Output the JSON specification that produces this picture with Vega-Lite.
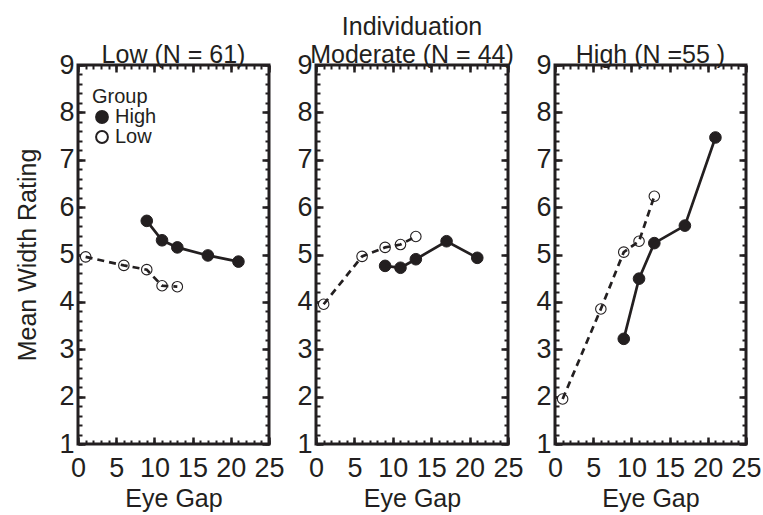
{
  "$schema": "https://vega.github.io/schema/vega-lite/v6.json",
  "background": "white",
  "padding": {"left": 14, "top": 13, "right": 0, "bottom": 0},
  "datasets": {
    "d": [
      {"Panel": "Low", "Group": "High", "EyeGap": 9, "Rating": 5.71},
      {"Panel": "Low", "Group": "High", "EyeGap": 11, "Rating": 5.30},
      {"Panel": "Low", "Group": "High", "EyeGap": 13, "Rating": 5.15},
      {"Panel": "Low", "Group": "High", "EyeGap": 17, "Rating": 4.98},
      {"Panel": "Low", "Group": "High", "EyeGap": 21, "Rating": 4.85},
      {"Panel": "Low", "Group": "Low", "EyeGap": 1, "Rating": 4.95},
      {"Panel": "Low", "Group": "Low", "EyeGap": 6, "Rating": 4.77},
      {"Panel": "Low", "Group": "Low", "EyeGap": 9, "Rating": 4.68},
      {"Panel": "Low", "Group": "Low", "EyeGap": 11, "Rating": 4.34},
      {"Panel": "Low", "Group": "Low", "EyeGap": 13, "Rating": 4.32},
      {"Panel": "Moderate", "Group": "High", "EyeGap": 9, "Rating": 4.76},
      {"Panel": "Moderate", "Group": "High", "EyeGap": 11, "Rating": 4.72},
      {"Panel": "Moderate", "Group": "High", "EyeGap": 13, "Rating": 4.90},
      {"Panel": "Moderate", "Group": "High", "EyeGap": 17, "Rating": 5.28},
      {"Panel": "Moderate", "Group": "High", "EyeGap": 21, "Rating": 4.93},
      {"Panel": "Moderate", "Group": "Low", "EyeGap": 1, "Rating": 3.95},
      {"Panel": "Moderate", "Group": "Low", "EyeGap": 6, "Rating": 4.96},
      {"Panel": "Moderate", "Group": "Low", "EyeGap": 9, "Rating": 5.15},
      {"Panel": "Moderate", "Group": "Low", "EyeGap": 11, "Rating": 5.21},
      {"Panel": "Moderate", "Group": "Low", "EyeGap": 13, "Rating": 5.38},
      {"Panel": "High", "Group": "High", "EyeGap": 9, "Rating": 3.22},
      {"Panel": "High", "Group": "High", "EyeGap": 11, "Rating": 4.49},
      {"Panel": "High", "Group": "High", "EyeGap": 13, "Rating": 5.24},
      {"Panel": "High", "Group": "High", "EyeGap": 17, "Rating": 5.61},
      {"Panel": "High", "Group": "High", "EyeGap": 21, "Rating": 7.47},
      {"Panel": "High", "Group": "Low", "EyeGap": 1, "Rating": 1.95},
      {"Panel": "High", "Group": "Low", "EyeGap": 6, "Rating": 3.85},
      {"Panel": "High", "Group": "Low", "EyeGap": 9, "Rating": 5.05},
      {"Panel": "High", "Group": "Low", "EyeGap": 11, "Rating": 5.28},
      {"Panel": "High", "Group": "Low", "EyeGap": 13, "Rating": 6.23}
    ]
  },
  "bounds": "flush",
  "spacing": 47,
  "resolve": {"legend": {"fill": "independent"}},
  "hconcat": [
    {
      "width": 191, "height": 379,
      "title": {"text": "Low (N = 61)"},
      "data": {"name": "d"},
      "transform": [{"filter": "datum.Panel === 'Low'"}],
      "resolve": {"axis": {"x": "independent", "y": "independent"}},
      "layer": [
        {
          "transform": [{"filter": "datum.Group === 'Low'"}],
          "mark": {"type": "point", "shape": "circle", "filled": true, "stroke": "#231f20", "strokeWidth": 1.1, "size": 110, "opacity": 1},
          "encoding": {
            "x": {"field": "EyeGap", "type": "quantitative", "scale": {"domain": [0, 25], "nice": false}, "axis": {"orient": "bottom", "values": [0, 5, 10, 15, 20, 25], "offset": -7, "tickSize": 7, "tickWidth": 2.5, "labelPadding": 11, "title": "Eye Gap", "titlePadding": 5}},
            "y": {"field": "Rating", "type": "quantitative", "scale": {"domain": [1, 9], "nice": false, "zero": false}, "axis": {"orient": "left", "values": [1, 2, 3, 4, 5, 6, 7, 8, 9], "offset": -7, "tickSize": 7, "tickWidth": 2.5, "labelPadding": 4, "title": "Mean Width Rating", "titlePadding": 18}},
            "fill": {"field": "Group", "type": "nominal", "scale": {"domain": ["High", "Low"], "range": ["#231f20", "white"]}, "legend": {"orient": "none", "legendX": 14, "legendY": 22, "title": "Group", "titleFontSize": 20, "titleFontWeight": "normal", "titleColor": "#231f20", "titlePadding": 0, "labelFontSize": 20, "labelColor": "#231f20", "labelOffset": 3, "symbolType": "circle", "symbolSize": 140, "symbolStrokeColor": "#231f20", "symbolStrokeWidth": 2, "rowPadding": -6, "padding": 0}}
          }
        },
        {
          "transform": [{"filter": "datum.Group === 'High'"}],
          "mark": {"type": "point", "shape": "circle", "filled": true, "stroke": "#231f20", "strokeWidth": 1, "size": 135, "opacity": 1},
          "encoding": {
            "x": {"field": "EyeGap", "type": "quantitative", "axis": {"orient": "top", "values": [0, 5, 10, 15, 20, 25], "offset": -7, "tickSize": 7, "tickWidth": 2.5, "labels": false, "title": null}},
            "y": {"field": "Rating", "type": "quantitative", "axis": {"orient": "right", "values": [1, 2, 3, 4, 5, 6, 7, 8, 9], "offset": -7, "tickSize": 7, "tickWidth": 2.5, "labels": false, "title": null}},
            "fill": {"field": "Group", "type": "nominal", "scale": {"domain": ["High", "Low"], "range": ["#231f20", "white"]}}
          }
        },
        {
          "transform": [{"filter": "datum.Group === 'Low'"}],
          "mark": {"type": "line", "strokeDash": [7, 5], "strokeWidth": 2.7, "color": "#231f20"},
          "encoding": {
            "x": {"field": "EyeGap", "type": "quantitative", "axis": {"orient": "bottom", "values": [0,1,2,3,4,5,6,7,8,9,10,11,12,13,14,15,16,17,18,19,20,21,22,23,24,25], "offset": -4, "tickSize": 4, "tickWidth": 2, "labels": false, "title": null}},
            "y": {"field": "Rating", "type": "quantitative", "axis": {"orient": "left", "values": [1,1.2,1.4,1.6,1.8,2,2.2,2.4,2.6,2.8,3,3.2,3.4,3.6,3.8,4,4.2,4.4,4.6,4.8,5,5.2,5.4,5.6,5.8,6,6.2,6.4,6.6,6.8,7,7.2,7.4,7.6,7.8,8,8.2,8.4,8.6,8.8,9], "offset": -4, "tickSize": 4, "tickWidth": 2, "labels": false, "title": null}}
          }
        },
        {
          "transform": [{"filter": "datum.Group === 'High'"}],
          "mark": {"type": "line", "strokeWidth": 2.7, "color": "#231f20"},
          "encoding": {
            "x": {"field": "EyeGap", "type": "quantitative", "axis": {"orient": "top", "values": [0,1,2,3,4,5,6,7,8,9,10,11,12,13,14,15,16,17,18,19,20,21,22,23,24,25], "offset": -4, "tickSize": 4, "tickWidth": 2, "labels": false, "title": null}},
            "y": {"field": "Rating", "type": "quantitative", "axis": {"orient": "right", "values": [1,1.2,1.4,1.6,1.8,2,2.2,2.4,2.6,2.8,3,3.2,3.4,3.6,3.8,4,4.2,4.4,4.6,4.8,5,5.2,5.4,5.6,5.8,6,6.2,6.4,6.6,6.8,7,7.2,7.4,7.6,7.8,8,8.2,8.4,8.6,8.8,9], "offset": -4, "tickSize": 4, "tickWidth": 2, "labels": false, "title": null}}
          }
        }
      ]
    },
    {
      "width": 192, "height": 379,
      "title": {"text": "Individuation", "subtitle": "Moderate (N = 44)", "subtitleFontSize": 25, "subtitleColor": "#231f20", "subtitleFont": "Liberation Sans", "subtitlePadding": 3},
      "data": {"name": "d"},
      "transform": [{"filter": "datum.Panel === 'Moderate'"}],
      "resolve": {"axis": {"x": "independent", "y": "independent"}},
      "layer": [
        {
          "transform": [{"filter": "datum.Group === 'Low'"}],
          "mark": {"type": "point", "shape": "circle", "filled": true, "fill": "white", "stroke": "#231f20", "strokeWidth": 1.1, "size": 110, "opacity": 1},
          "encoding": {
            "x": {"field": "EyeGap", "type": "quantitative", "scale": {"domain": [0, 25], "nice": false}, "axis": {"orient": "bottom", "values": [0, 5, 10, 15, 20, 25], "offset": -7, "tickSize": 7, "tickWidth": 2.5, "labelPadding": 11, "title": "Eye Gap", "titlePadding": 5}},
            "y": {"field": "Rating", "type": "quantitative", "scale": {"domain": [1, 9], "nice": false, "zero": false}, "axis": {"orient": "left", "values": [1, 2, 3, 4, 5, 6, 7, 8, 9], "offset": -7, "tickSize": 7, "tickWidth": 2.5, "labelPadding": 4, "title": null}}
          }
        },
        {
          "transform": [{"filter": "datum.Group === 'High'"}],
          "mark": {"type": "point", "shape": "circle", "filled": true, "fill": "#231f20", "stroke": "#231f20", "strokeWidth": 1, "size": 135, "opacity": 1},
          "encoding": {
            "x": {"field": "EyeGap", "type": "quantitative", "axis": {"orient": "top", "values": [0, 5, 10, 15, 20, 25], "offset": -7, "tickSize": 7, "tickWidth": 2.5, "labels": false, "title": null}},
            "y": {"field": "Rating", "type": "quantitative", "axis": {"orient": "right", "values": [1, 2, 3, 4, 5, 6, 7, 8, 9], "offset": -7, "tickSize": 7, "tickWidth": 2.5, "labels": false, "title": null}}
          }
        },
        {
          "transform": [{"filter": "datum.Group === 'Low'"}],
          "mark": {"type": "line", "strokeDash": [7, 5], "strokeWidth": 2.7, "color": "#231f20"},
          "encoding": {
            "x": {"field": "EyeGap", "type": "quantitative", "axis": {"orient": "bottom", "values": [0,1,2,3,4,5,6,7,8,9,10,11,12,13,14,15,16,17,18,19,20,21,22,23,24,25], "offset": -4, "tickSize": 4, "tickWidth": 2, "labels": false, "title": null}},
            "y": {"field": "Rating", "type": "quantitative", "axis": {"orient": "left", "values": [1,1.2,1.4,1.6,1.8,2,2.2,2.4,2.6,2.8,3,3.2,3.4,3.6,3.8,4,4.2,4.4,4.6,4.8,5,5.2,5.4,5.6,5.8,6,6.2,6.4,6.6,6.8,7,7.2,7.4,7.6,7.8,8,8.2,8.4,8.6,8.8,9], "offset": -4, "tickSize": 4, "tickWidth": 2, "labels": false, "title": null}}
          }
        },
        {
          "transform": [{"filter": "datum.Group === 'High'"}],
          "mark": {"type": "line", "strokeWidth": 2.7, "color": "#231f20"},
          "encoding": {
            "x": {"field": "EyeGap", "type": "quantitative", "axis": {"orient": "top", "values": [0,1,2,3,4,5,6,7,8,9,10,11,12,13,14,15,16,17,18,19,20,21,22,23,24,25], "offset": -4, "tickSize": 4, "tickWidth": 2, "labels": false, "title": null}},
            "y": {"field": "Rating", "type": "quantitative", "axis": {"orient": "right", "values": [1,1.2,1.4,1.6,1.8,2,2.2,2.4,2.6,2.8,3,3.2,3.4,3.6,3.8,4,4.2,4.4,4.6,4.8,5,5.2,5.4,5.6,5.8,6,6.2,6.4,6.6,6.8,7,7.2,7.4,7.6,7.8,8,8.2,8.4,8.6,8.8,9], "offset": -4, "tickSize": 4, "tickWidth": 2, "labels": false, "title": null}}
          }
        }
      ]
    },
    {
      "width": 191, "height": 379,
      "title": {"text": "High (N =55 )"},
      "data": {"name": "d"},
      "transform": [{"filter": "datum.Panel === 'High'"}],
      "resolve": {"axis": {"x": "independent", "y": "independent"}},
      "layer": [
        {
          "transform": [{"filter": "datum.Group === 'Low'"}],
          "mark": {"type": "point", "shape": "circle", "filled": true, "fill": "white", "stroke": "#231f20", "strokeWidth": 1.1, "size": 110, "opacity": 1},
          "encoding": {
            "x": {"field": "EyeGap", "type": "quantitative", "scale": {"domain": [0, 25], "nice": false}, "axis": {"orient": "bottom", "values": [0, 5, 10, 15, 20, 25], "offset": -7, "tickSize": 7, "tickWidth": 2.5, "labelPadding": 11, "title": "Eye Gap", "titlePadding": 5}},
            "y": {"field": "Rating", "type": "quantitative", "scale": {"domain": [1, 9], "nice": false, "zero": false}, "axis": {"orient": "left", "values": [1, 2, 3, 4, 5, 6, 7, 8, 9], "offset": -7, "tickSize": 7, "tickWidth": 2.5, "labelPadding": 4, "title": null}}
          }
        },
        {
          "transform": [{"filter": "datum.Group === 'High'"}],
          "mark": {"type": "point", "shape": "circle", "filled": true, "fill": "#231f20", "stroke": "#231f20", "strokeWidth": 1, "size": 135, "opacity": 1},
          "encoding": {
            "x": {"field": "EyeGap", "type": "quantitative", "axis": {"orient": "top", "values": [0, 5, 10, 15, 20, 25], "offset": -7, "tickSize": 7, "tickWidth": 2.5, "labels": false, "title": null}},
            "y": {"field": "Rating", "type": "quantitative", "axis": {"orient": "right", "values": [1, 2, 3, 4, 5, 6, 7, 8, 9], "offset": -7, "tickSize": 7, "tickWidth": 2.5, "labels": false, "title": null}}
          }
        },
        {
          "transform": [{"filter": "datum.Group === 'Low'"}],
          "mark": {"type": "line", "strokeDash": [7, 5], "strokeWidth": 2.7, "color": "#231f20"},
          "encoding": {
            "x": {"field": "EyeGap", "type": "quantitative", "axis": {"orient": "bottom", "values": [0,1,2,3,4,5,6,7,8,9,10,11,12,13,14,15,16,17,18,19,20,21,22,23,24,25], "offset": -4, "tickSize": 4, "tickWidth": 2, "labels": false, "title": null}},
            "y": {"field": "Rating", "type": "quantitative", "axis": {"orient": "left", "values": [1,1.2,1.4,1.6,1.8,2,2.2,2.4,2.6,2.8,3,3.2,3.4,3.6,3.8,4,4.2,4.4,4.6,4.8,5,5.2,5.4,5.6,5.8,6,6.2,6.4,6.6,6.8,7,7.2,7.4,7.6,7.8,8,8.2,8.4,8.6,8.8,9], "offset": -4, "tickSize": 4, "tickWidth": 2, "labels": false, "title": null}}
          }
        },
        {
          "transform": [{"filter": "datum.Group === 'High'"}],
          "mark": {"type": "line", "strokeWidth": 2.7, "color": "#231f20"},
          "encoding": {
            "x": {"field": "EyeGap", "type": "quantitative", "axis": {"orient": "top", "values": [0,1,2,3,4,5,6,7,8,9,10,11,12,13,14,15,16,17,18,19,20,21,22,23,24,25], "offset": -4, "tickSize": 4, "tickWidth": 2, "labels": false, "title": null}},
            "y": {"field": "Rating", "type": "quantitative", "axis": {"orient": "right", "values": [1,1.2,1.4,1.6,1.8,2,2.2,2.4,2.6,2.8,3,3.2,3.4,3.6,3.8,4,4.2,4.4,4.6,4.8,5,5.2,5.4,5.6,5.8,6,6.2,6.4,6.6,6.8,7,7.2,7.4,7.6,7.8,8,8.2,8.4,8.6,8.8,9], "offset": -4, "tickSize": 4, "tickWidth": 2, "labels": false, "title": null}}
          }
        }
      ]
    }
  ],
  "config": {
    "font": "Liberation Sans",
    "view": {"stroke": "#231f20", "strokeWidth": 3},
    "axis": {"domain": false, "grid": false, "ticks": true, "minExtent": 0, "tickColor": "#231f20", "labelColor": "#231f20", "titleColor": "#231f20", "labelFontSize": 27, "titleFontSize": 25, "titleFontWeight": "normal", "labelOverlap": false, "labelFlush": false, "labelFont": "Liberation Sans", "titleFont": "Liberation Sans"},
    "title": {"fontSize": 25, "fontWeight": "normal", "color": "#231f20", "font": "Liberation Sans", "offset": -17, "subtitleFontSize": 25, "subtitleColor": "#231f20"}
  }
}
